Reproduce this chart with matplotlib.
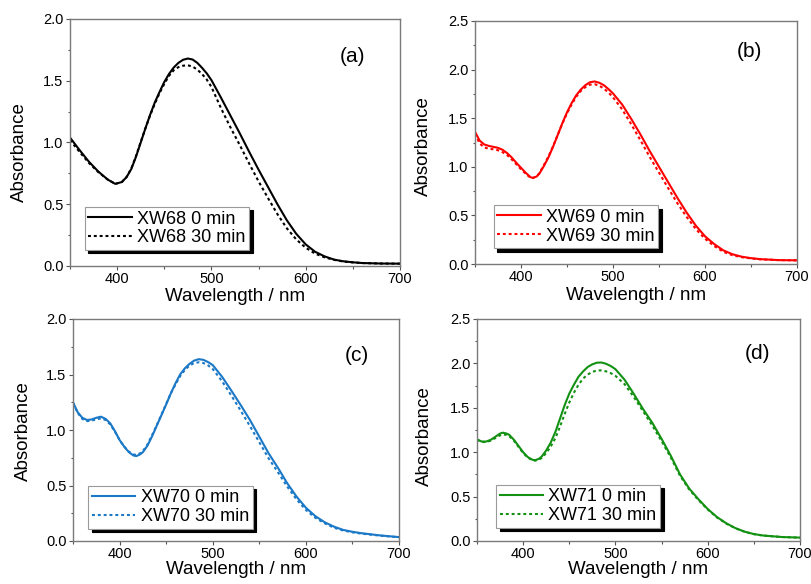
import matplotlib
matplotlib.use("Agg")
import matplotlib.pyplot as plt
from matplotlib.ticker import MultipleLocator, FormatStrFormatter

plt.rcParams['font.family'] = ['Liberation Sans', 'DejaVu Sans']

# ---------------- data ----------------
wl_a = [350, 360, 370, 380, 390, 398, 405, 410, 415, 420, 425, 430, 435, 440, 445, 450,
        455, 460, 465, 470, 475, 480, 485, 490, 495, 500, 510, 520, 530, 540, 550, 560,
        570, 580, 590, 600, 610, 620, 630, 640, 650, 660, 680, 700]
a_0min = [1.04, 0.94, 0.845, 0.765, 0.70, 0.665, 0.68, 0.72, 0.785, 0.885, 1.0, 1.115, 1.225,
          1.325, 1.41, 1.49, 1.555, 1.607, 1.645, 1.67, 1.68, 1.672, 1.645, 1.605, 1.56, 1.505,
          1.365, 1.22, 1.075, 0.925, 0.78, 0.64, 0.50, 0.37, 0.26, 0.175, 0.115, 0.078, 0.052,
          0.038, 0.03, 0.024, 0.02, 0.019]
a_30min = [1.02, 0.925, 0.835, 0.76, 0.70, 0.665, 0.68, 0.72, 0.79, 0.89, 1.005, 1.115, 1.22,
           1.315, 1.40, 1.475, 1.54, 1.585, 1.61, 1.622, 1.625, 1.615, 1.59, 1.555, 1.51, 1.45,
           1.28, 1.125, 0.98, 0.83, 0.685, 0.55, 0.42, 0.305, 0.215, 0.148, 0.10, 0.07, 0.05,
           0.036, 0.029, 0.024, 0.02, 0.019]

wl_b = [350, 355, 360, 365, 370, 375, 380, 385, 390, 395, 400, 405, 410, 413, 417, 420, 425,
        430, 435, 440, 445, 450, 455, 460, 465, 470, 475, 480, 485, 490, 495, 500, 510, 520,
        530, 540, 550, 560, 570, 580, 590, 600, 610, 620, 630, 640, 650, 660, 680, 700]
b_0min = [1.36, 1.27, 1.23, 1.215, 1.205, 1.195, 1.175, 1.14, 1.095, 1.04, 0.99, 0.94, 0.895,
          0.885, 0.90, 0.93, 1.01, 1.10, 1.21, 1.33, 1.45, 1.56, 1.655, 1.735, 1.795, 1.84,
          1.87, 1.878, 1.865, 1.84, 1.80, 1.755, 1.64, 1.49, 1.33, 1.16, 1.00, 0.84, 0.68,
          0.53, 0.395, 0.285, 0.205, 0.14, 0.10, 0.075, 0.06, 0.05, 0.04, 0.038]
b_30min = [1.34, 1.24, 1.20, 1.185, 1.18, 1.17, 1.15, 1.12, 1.075, 1.025, 0.975, 0.93, 0.89,
           0.885, 0.905, 0.935, 1.02, 1.11, 1.215, 1.33, 1.445, 1.55, 1.64, 1.72, 1.78, 1.82,
           1.845, 1.85, 1.835, 1.805, 1.765, 1.715, 1.59, 1.435, 1.27, 1.10, 0.94, 0.78,
           0.625, 0.485, 0.36, 0.26, 0.185, 0.125, 0.09, 0.07, 0.057, 0.048, 0.04, 0.037]

wl_c = [350, 355, 360, 365, 370, 375, 380, 385, 390, 395, 400, 405, 410, 415, 418, 422, 425,
        430, 435, 440, 445, 450, 455, 460, 465, 470, 475, 480, 485, 490, 495, 500, 510, 520,
        530, 540, 550, 560, 570, 580, 590, 600, 610, 620, 630, 640, 650, 660, 680, 700]
c_0min = [1.25, 1.16, 1.11, 1.09, 1.095, 1.11, 1.12, 1.10, 1.06, 0.99, 0.91, 0.85, 0.80, 0.77,
          0.765, 0.78, 0.80, 0.86, 0.945, 1.04, 1.135, 1.23, 1.33, 1.42, 1.50, 1.555, 1.595,
          1.625, 1.638, 1.632, 1.612, 1.585, 1.48, 1.355, 1.225, 1.09, 0.94, 0.79, 0.66, 0.52,
          0.40, 0.30, 0.225, 0.17, 0.13, 0.10, 0.083, 0.07, 0.05, 0.035]
c_30min = [1.245, 1.155, 1.10, 1.08, 1.085, 1.095, 1.105, 1.09, 1.05, 0.985, 0.91, 0.85, 0.805,
           0.78, 0.775, 0.79, 0.81, 0.87, 0.955, 1.045, 1.14, 1.235, 1.33, 1.41, 1.485, 1.54,
           1.58, 1.603, 1.61, 1.603, 1.582, 1.55, 1.44, 1.31, 1.175, 1.035, 0.89, 0.745, 0.62,
           0.49, 0.375, 0.28, 0.21, 0.16, 0.12, 0.095, 0.078, 0.066, 0.048, 0.034]

wl_d = [350, 355, 360, 365, 370, 375, 378, 382, 385, 390, 395, 400, 405, 410, 413, 417, 420,
        425, 430, 435, 440, 445, 450, 455, 460, 465, 470, 475, 480, 485, 490, 495, 500, 510,
        520, 530, 540, 550, 560, 570, 580, 590, 600, 610, 620, 630, 640, 650, 660, 680, 700]
d_0min = [1.145, 1.12, 1.12, 1.14, 1.175, 1.21, 1.22, 1.21, 1.195, 1.14, 1.07, 1.00, 0.945,
          0.915, 0.91, 0.925, 0.95, 1.02, 1.11, 1.23, 1.38, 1.53, 1.66, 1.76, 1.85, 1.91, 1.96,
          1.99, 2.008, 2.01, 1.995, 1.97, 1.935, 1.815, 1.655, 1.485, 1.33, 1.15, 0.96, 0.75,
          0.59, 0.47, 0.36, 0.27, 0.20, 0.145, 0.105, 0.078, 0.062, 0.045, 0.038]
d_30min = [1.14, 1.115, 1.115, 1.13, 1.16, 1.19, 1.20, 1.195, 1.18, 1.13, 1.06, 0.99, 0.94,
           0.91, 0.905, 0.915, 0.935, 0.99, 1.065, 1.16, 1.29, 1.43, 1.56, 1.67, 1.76, 1.83,
           1.875, 1.905, 1.92, 1.922, 1.91, 1.89, 1.86, 1.765, 1.62, 1.46, 1.30, 1.125, 0.94,
           0.735, 0.58, 0.46, 0.355, 0.265, 0.197, 0.143, 0.104, 0.077, 0.061, 0.045, 0.038]

panel_tags = ["(a)", "(b)", "(c)", "(d)"]
labels_0 = ["XW68 0 min", "XW69 0 min", "XW70 0 min", "XW71 0 min"]
labels_30 = ["XW68 30 min", "XW69 30 min", "XW70 30 min", "XW71 30 min"]
colors = ["black", "#ff0000", "#1a78c6", "#139113"]
y_max = [2.0, 2.5, 2.0, 2.5]
x_ticks = [400, 500, 600, 700]

series = [(wl_a, a_0min, a_30min), (wl_b, b_0min, b_30min),
          (wl_c, c_0min, c_30min), (wl_d, d_0min, d_30min)]

# ---------------- layout ----------------
fig = plt.figure(figsize=(8.12, 5.84), dpi=100)
W, H = 812, 584
boxes = [(70, 19, 400, 266), (475, 21, 797, 264), (73, 319, 399, 541), (477, 319, 800, 541)]
tag_pos = [(0.857, 0.85), (0.852, 0.874), (0.87, 0.836), (0.869, 0.844)]
leg_pos = [(0.045, 0.065), (0.058, 0.065), (0.047, 0.055), (0.059, 0.059)]
ylab_x = [-0.127, -0.133, -0.127, -0.137]
ylab_y = [0.46, 0.486, 0.495, 0.472]
xlab_y = [-0.088, -0.093, -0.088, -0.088]

frame_col = "#7a7a7a"

for i in range(4):
    l, t, r, b = boxes[i]
    ax = fig.add_axes([l / W, 1 - b / H, (r - l) / W, (b - t) / H])
    wl, y0, y30 = series[i]
    ax.plot(wl, y0, color=colors[i], lw=1.5, ls='-', label=labels_0[i])
    ax.plot(wl, y30, color=colors[i], lw=1.5, ls=(0, (1.4, 1.4)), label=labels_30[i])
    ax.set_xlim(350, 700)
    ax.set_ylim(0, y_max[i])
    ax.set_xticks(x_ticks)
    ax.xaxis.set_minor_locator(MultipleLocator(50))
    ax.yaxis.set_major_locator(MultipleLocator(0.5))
    ax.yaxis.set_minor_locator(MultipleLocator(0.25))
    ax.yaxis.set_major_formatter(FormatStrFormatter('%.1f'))
    ax.tick_params(which='major', direction='out', length=3.2, width=0.8, color='#555555',
                   labelsize=10.5, pad=1.5, top=False, right=False)
    ax.tick_params(axis='x', which='major', pad=0.8)
    ax.tick_params(which='minor', direction='out', length=1.8, width=0.8, color='#555555',
                   top=False, right=False)
    for s in ax.spines.values():
        s.set_color(frame_col)
        s.set_linewidth(1.0)
    ax.set_xlabel("Wavelength / nm", fontsize=13.5)
    ax.set_ylabel("Absorbance", fontsize=13.5)
    ax.xaxis.set_label_coords(0.5, xlab_y[i])
    ax.yaxis.set_label_coords(ylab_x[i], ylab_y[i])
    ax.text(tag_pos[i][0], tag_pos[i][1], panel_tags[i], transform=ax.transAxes,
            fontsize=15, ha='center', va='center')
    leg = ax.legend(loc='lower left', bbox_to_anchor=leg_pos[i], borderaxespad=0,
                    fontsize=13, frameon=True, fancybox=False, framealpha=1,
                    edgecolor='#9a9a9a', handlelength=2.4, handletextpad=0.3,
                    borderpad=0.2, labelspacing=0.1,
                    shadow={'ox': 2.5, 'oy': -2.5, 'facecolor': 'black',
                            'edgecolor': 'black', 'alpha': 1})
    leg.get_frame().set_linewidth(0.8)

fig.savefig("out.png", dpi=100)
